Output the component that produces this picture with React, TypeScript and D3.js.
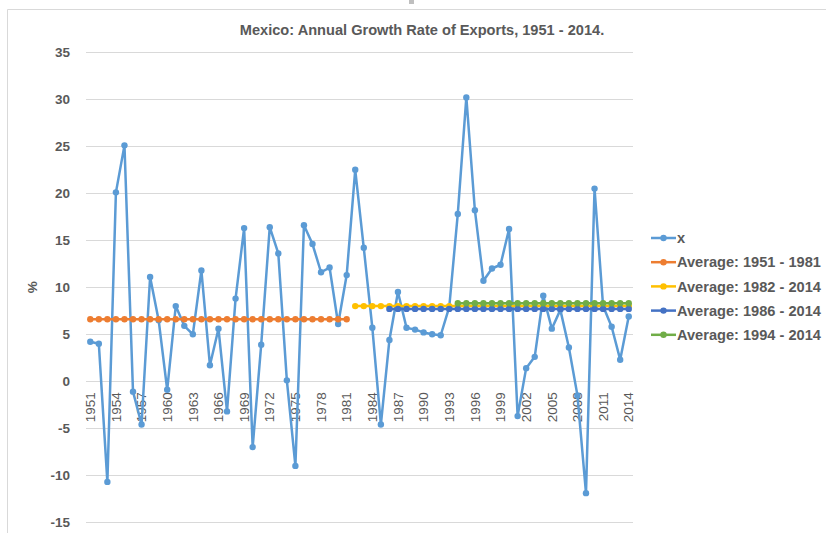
import React, { useEffect, useRef } from 'react';
import * as d3 from 'd3';

const years: number[] = [
  1951, 1952, 1953, 1954, 1955, 1956, 1957, 1958, 1959, 1960,
  1961, 1962, 1963, 1964, 1965, 1966, 1967, 1968, 1969, 1970,
  1971, 1972, 1973, 1974, 1975, 1976, 1977, 1978, 1979, 1980,
  1981, 1982, 1983, 1984, 1985, 1986, 1987, 1988, 1989, 1990,
  1991, 1992, 1993, 1994, 1995, 1996, 1997, 1998, 1999, 2000,
  2001, 2002, 2003, 2004, 2005, 2006, 2007, 2008, 2009, 2010,
  2011, 2012, 2013, 2014,
];

// annual growth rate of exports, %
const growth: number[] = [
  4.2, 4.0, -10.7, 20.1, 25.1, -1.1, -4.6, 11.1, 6.5, -0.9,
  8.0, 5.9, 5.0, 11.8, 1.7, 5.6, -3.2, 8.8, 16.3, -7.0,
  3.9, 16.4, 13.6, 0.1, -9.0, 16.6, 14.6, 11.6, 12.1, 6.1,
  11.3, 22.5, 14.2, 5.7, -4.6, 4.4, 9.5, 5.7, 5.5, 5.2,
  5.0, 4.9, 7.9, 17.8, 30.2, 18.2, 10.7, 12.0, 12.4, 16.2,
  -3.7, 1.4, 2.6, 9.1, 5.6, 7.6, 3.6, -1.5, -11.9, 20.5,
  8.0, 5.8, 2.3, 6.9,
];

const avgNames: string[] = [
  'Average: 1951 - 1981',
  'Average: 1982 - 2014',
  'Average: 1986 - 2014',
  'Average: 1994 - 2014',
];
const avgStart: number[] = [1951, 1982, 1986, 1994];
const avgEnd: number[] = [1981, 2014, 2014, 2014];
const avgValues: number[] = [6.6, 8.0, 7.7, 8.3];

const yTicks: number[] = [-15, -10, -5, 0, 5, 10, 15, 20, 25, 30, 35];
const xTickYears: number[] = [
  1951, 1954, 1957, 1960, 1963, 1966, 1969, 1972, 1975, 1978, 1981,
  1984, 1987, 1990, 1993, 1996, 1999, 2002, 2005, 2008, 2011, 2014,
];

const mainColor = '#5B9BD5';
const avgColors = ['#ED7D31', '#FFC000', '#4472C4', '#70AD47'];
const textColor = '#595959';
const font = '"Liberation Sans", Arial, sans-serif';

const App = () => {
  const chartRef = useRef<SVGSVGElement | null>(null);

  useEffect(() => {
    if (chartRef.current) {
      drawChart();
    }
  }, []);

  const drawChart = () => {
    const svg = d3.select(chartRef.current);
    svg.selectAll('*').remove();

    const left = 86;
    const right = 633;
    const top = 52.3;
    const bottom = 522.3;

    const x = d3.scalePoint<number>().domain(years).range([left, right]).padding(0.5);
    const y = d3.scaleLinear().domain([-15, 35]).range([bottom, top]);

    // chart frame
    svg.append('path')
      .attr('d', `M7.5,${bottom + 20} V9.5 H826`)
      .attr('fill', 'none')
      .attr('stroke', '#d9d9d9')
      .attr('stroke-width', 1);
    svg.append('rect')
      .attr('x', 409).attr('y', 0).attr('width', 5).attr('height', 4)
      .attr('fill', '#bfbfbf');

    // title
    svg.append('text')
      .attr('x', 422)
      .attr('y', 35)
      .attr('text-anchor', 'middle')
      .attr('font-family', font)
      .attr('font-weight', 'bold')
      .attr('font-size', 14.6)
      .attr('fill', textColor)
      .text('Mexico: Annual Growth Rate of Exports, 1951 - 2014.');

    // gridlines
    svg.append('g')
      .selectAll('line')
      .data(yTicks)
      .enter()
      .append('line')
      .attr('x1', left)
      .attr('x2', right)
      .attr('y1', d => Math.round(y(d)) + 0.5)
      .attr('y2', d => Math.round(y(d)) + 0.5)
      .attr('stroke', '#d9d9d9')
      .attr('stroke-width', 1);

    // y labels
    svg.append('g')
      .selectAll('text')
      .data(yTicks)
      .enter()
      .append('text')
      .attr('x', 70)
      .attr('y', d => y(d))
      .attr('dy', '0.35em')
      .attr('text-anchor', 'end')
      .attr('font-family', font)
      .attr('font-weight', 'bold')
      .attr('font-size', 13.5)
      .attr('fill', textColor)
      .text(d => d);

    svg.append('text')
      .attr('transform', `translate(37, ${y(10)}) rotate(-90)`)
      .attr('text-anchor', 'middle')
      .attr('font-family', font)
      .attr('font-weight', 'bold')
      .attr('font-size', 13.5)
      .attr('fill', textColor)
      .text('%');

    // x labels at the zero line
    svg.append('g')
      .selectAll('text')
      .data(xTickYears)
      .enter()
      .append('text')
      .attr('transform', d => `translate(${x(d)}, ${y(0) + 11}) rotate(-90)`)
      .attr('dy', '0.35em')
      .attr('text-anchor', 'end')
      .attr('font-family', font)
      .attr('font-size', 13.5)
      .attr('fill', textColor)
      .text(d => d);

    const line = d3.line<[number, number]>()
      .x(d => x(d[0]) as number)
      .y(d => y(d[1]));

    const drawSeries = (pts: [number, number][], color: string) => {
      const g = svg.append('g');
      g.append('path')
        .attr('d', line(pts))
        .attr('fill', 'none')
        .attr('stroke', color)
        .attr('stroke-width', 2.5)
        .attr('stroke-linejoin', 'round');
      g.selectAll('circle')
        .data(pts)
        .enter()
        .append('circle')
        .attr('cx', d => x(d[0]) as number)
        .attr('cy', d => y(d[1]))
        .attr('r', 3.2)
        .attr('fill', color);
    };

    drawSeries(years.map((yr, i) => [yr, growth[i]] as [number, number]), mainColor);

    avgNames.forEach((name, k) => {
      const pts = years
        .filter(yr => yr >= avgStart[k] && yr <= avgEnd[k])
        .map(yr => [yr, avgValues[k]] as [number, number]);
      drawSeries(pts, avgColors[k]);
    });

    // legend
    const legendNames = ['x', ...avgNames];
    const legendColors = [mainColor, ...avgColors];
    const legend = svg.append('g').attr('transform', 'translate(651, 238)');
    const rows = legend
      .selectAll('g')
      .data(legendNames)
      .enter()
      .append('g')
      .attr('transform', (d, i) => `translate(0, ${i * 24.2})`);
    rows.append('line')
      .attr('x1', 0)
      .attr('x2', 25)
      .attr('stroke', (d, i) => legendColors[i])
      .attr('stroke-width', 2.5);
    rows.append('circle')
      .attr('cx', 12.5)
      .attr('r', 3.2)
      .attr('fill', (d, i) => legendColors[i]);
    rows.append('text')
      .attr('x', 26)
      .attr('dy', '0.35em')
      .attr('font-family', font)
      .attr('font-weight', 'bold')
      .attr('font-size', 14.6)
      .attr('fill', textColor)
      .text(d => d);
  };

  return (
    <svg
      ref={chartRef}
      width="826"
      height="533"
      style={{ position: 'absolute', left: 0, top: 0, background: '#fff' }}
    />
  );
};

export default App;
